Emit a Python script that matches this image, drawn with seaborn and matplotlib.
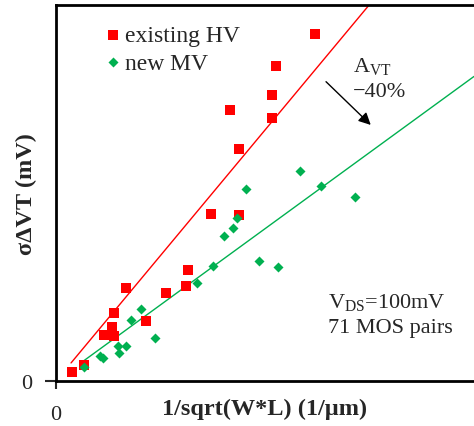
import numpy as np
import pandas as pd
import matplotlib
matplotlib.use("Agg")
import matplotlib.pyplot as plt
import seaborn as sns

# ---- data (x: 1/sqrt(W*L) in 1/um, y: sigma dVT in mV; arbitrary scale) ----
hv_x = [0.078, 0.135, 0.231, 0.267, 0.278, 0.279, 0.335, 0.431, 0.526, 0.623,
        0.633, 0.743, 0.877, 0.877, 0.834, 1.035, 1.035, 1.054, 1.241]
hv_y = [0.93, 1.73, 4.89, 5.78, 4.76, 7.23, 9.86, 6.38, 9.36, 10.11,
        11.86, 17.74, 17.64, 24.71, 28.80, 27.95, 30.46, 33.48, 36.88]
mv_x = [0.135, 0.212, 0.223, 0.298, 0.300, 0.336, 0.360, 0.405, 0.475, 0.673,
        0.751, 0.802, 0.847, 0.868, 0.907, 0.969, 1.062, 1.167, 1.268, 1.432]
mv_y = [1.54, 2.63, 2.49, 3.74, 3.03, 3.69, 6.54, 7.64, 4.54, 10.43,
        12.26, 15.40, 16.28, 17.32, 20.46, 12.73, 12.11, 22.34, 20.71, 19.57]
series_labels = ["existing HV", "new MV"]
slope_hv = 26.7   # fitted A_VT lines through origin
slope_mv = 16.2
fit_x_hv = [0.072, 2.0]
fit_x_mv = [0.126, 2.0]
x_label = "1/sqrt(W*L) (1/\u00b5m)"
y_label = "\u03c3\u0394VT (mV)"

sns.set_theme(style="white")
plt.rcParams["font.family"] = ["Liberation Serif", "DejaVu Serif"]
plt.rcParams["mathtext.fontset"] = "custom"
plt.rcParams["mathtext.rm"] = "Liberation Serif"
plt.rcParams["mathtext.it"] = "Liberation Serif:italic"

RED = "#FF0000"
GREEN = "#00B050"

fig = plt.figure(figsize=(4.74, 4.27), dpi=100)
W, H = 474, 427
ax = fig.add_axes([56 / W, (H - 382) / H, 418 / W, 376 / H])

df_hv = pd.DataFrame({"x": hv_x, "y": hv_y})
df_mv = pd.DataFrame({"x": mv_x, "y": mv_y})

fx_hv = np.array(fit_x_hv)
fx_mv = np.array(fit_x_mv)
sns.lineplot(x=fx_hv, y=slope_hv * fx_hv, ax=ax, color=RED, lw=1.0, zorder=2)
sns.lineplot(x=fx_mv, y=slope_mv * fx_mv, ax=ax, color=GREEN, lw=1.0, zorder=2)

sns.scatterplot(data=df_hv, x="x", y="y", ax=ax, marker="s", s=62, color=RED,
                linewidth=0, label=series_labels[0], zorder=3)
sns.scatterplot(data=df_mv, x="x", y="y", ax=ax, marker="D", s=26, color=GREEN,
                linewidth=0, label=series_labels[1], zorder=3)

ax.set_xlim(0, 2.0)
ax.set_ylim(0, 40)
ax.set_xticks([0])
ax.set_yticks([0])
ax.set_xticklabels(["0"], fontsize=16)
ax.set_yticklabels(["0"], fontsize=16)
ax.tick_params(axis="x", direction="out", length=6, width=1.5, pad=11, bottom=True)
ax.tick_params(axis="y", direction="out", length=8, width=1.5, pad=9, left=True)

for side in ["left", "bottom", "top"]:
    ax.spines[side].set_visible(True)
    ax.spines[side].set_color("black")
    ax.spines[side].set_linewidth(2)
ax.spines["right"].set_visible(False)

ax.set_xlabel(x_label, fontsize=17.5, fontweight="bold")
ax.set_ylabel(y_label, fontsize=17.5, fontweight="bold")
ax.xaxis.set_label_coords(0.5, (382 - 399) / 376)
ax.yaxis.set_label_coords((37 - 56) / 418, 0.5)

leg = ax.legend(loc="upper left", bbox_to_anchor=(0.12, 0.948), frameon=False,
                fontsize=17, handlelength=0.6, handletextpad=0.2,
                borderpad=0, borderaxespad=0, labelspacing=0.25)

# annotations
ax.text(1.42, 33.0, r"A$_{\mathrm{VT}}$", fontsize=16, va="baseline", ha="left")
ax.text(1.42, 30.3, "\u221240%", fontsize=16, va="baseline", ha="left")
ax.annotate("", xy=(1.506, 27.24), xytext=(1.292, 31.84),
            arrowprops=dict(arrowstyle="-|>", color="black", lw=1.0,
                            mutation_scale=18, shrinkA=0, shrinkB=0))
ax.text(1.303, 7.84, r"V$_{\mathrm{DS}}$=100mV", fontsize=16, va="baseline", ha="left")
ax.text(1.303, 5.18, "71 MOS pairs", fontsize=16, va="baseline", ha="left")

fig.savefig("out.png", dpi=100)
